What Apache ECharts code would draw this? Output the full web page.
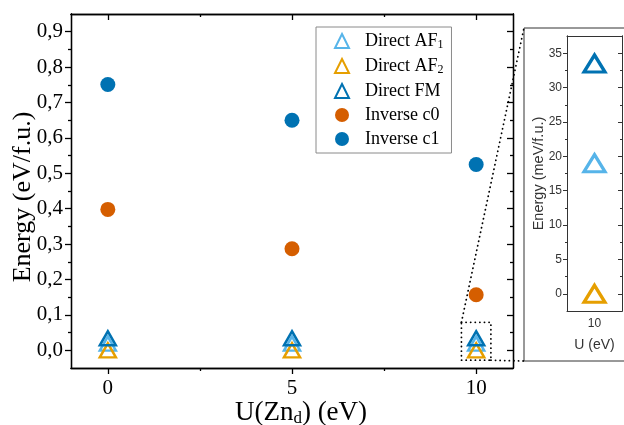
<!DOCTYPE html>
<html>
<head>
<meta charset="utf-8">
<script src="https://cdn.jsdelivr.net/npm/echarts@6/dist/echarts.min.js"></script>
<style>
  html, body { margin: 0; padding: 0; background: #fff; }
  #chart { width: 624px; height: 425px; }
</style>
</head>
<body>
<div id="chart"></div>
<script>
// main plot values (eV/f.u.)
var uValues = [0, 5, 10];
var directAF1 = [0.019, 0.019, 0.019];
var directAF2 = [0.000, 0.000, 0.000];
var directFM = [0.034, 0.034, 0.034];
var inverseC0 = [0.398, 0.287, 0.157];
var inverseC1 = [0.751, 0.650, 0.525];

// inset values (meV/f.u.) at U = 10 eV
var insetU = ['10'];
var insetAF1 = [19];
var insetAF2 = [0];
var insetFM = [33.5];

// tick labels
var xTicks = [0, 5, 10];
var xMinor = [2.5, 7.5];
var yTicks = [0, 0.1, 0.2, 0.3, 0.4, 0.5, 0.6, 0.7, 0.8, 0.9];
var yMinor = [0.05, 0.15, 0.25, 0.35, 0.45, 0.55, 0.65, 0.75, 0.85];
var insetYTicks = [0, 5, 10, 15, 20, 25, 30, 35];
var insetYMinor = [2.5, 7.5, 12.5, 17.5, 22.5, 27.5, 32.5];

var serif = 'Liberation Serif';
var sans = 'Liberation Sans';
var colors = { af1: '#56B4E9', af2: '#E69F00', fm: '#0072B2', c0: '#D55E00', c1: '#0072B2' };

function pairs(xs, ys) {
    return xs.map(function (x, i) { return [x, ys[i]]; });
}

// one value axis = one set of ticks (major or minor) on one side
function tickAxis(pos, min, max, values, len, inside, label, gridIndex) {
    var c = gridIndex ? '#333' : '#000';
    var w = gridIndex ? 1 : 1.3;
    var ax = {
        type: 'value', gridIndex: gridIndex || 0, position: pos,
        min: min, max: max, nameMoveOverlap: false,
        splitLine: { show: false },
        axisLine: { show: true, onZero: false, lineStyle: { color: c, width: w } },
        axisTick: { show: true, inside: inside, length: len, customValues: values,
            lineStyle: { color: c, width: w } },
        axisLabel: { show: !!label, customValues: values }
    };
    if (label) Object.keys(label).forEach(function (k) { ax.axisLabel[k] = label[k]; });
    return ax;
}

var mainYLabel = { fontFamily: serif, fontSize: 21, color: '#000', margin: 8,
    formatter: function (v) { return v.toFixed(1).replace('.', ','); } };
var mainXLabel = { fontFamily: serif, fontSize: 21, color: '#000', margin: 10 };
var insetYLabel = { fontFamily: sans, fontSize: 12, color: '#333', margin: 5 };

var xAxes = [
    tickAxis('bottom', -1, 11, xTicks, 6, false, mainXLabel),
    tickAxis('bottom', -1, 11, xMinor, 3, false),
    tickAxis('top', -1, 11, xTicks, 6, true),
    tickAxis('top', -1, 11, xMinor, 3, true),
    {
        type: 'category', gridIndex: 1, position: 'bottom', data: insetU,
        nameMoveOverlap: false,
        axisLine: { onZero: false, lineStyle: { color: '#333' } },
        axisTick: { alignWithLabel: true, length: 4, lineStyle: { color: '#333' } },
        axisLabel: { fontFamily: sans, fontSize: 12, color: '#333', margin: 7 },
        name: 'U (eV)', nameLocation: 'middle', nameGap: 27,
        nameTextStyle: { fontFamily: sans, fontSize: 14, color: '#333' }
    },
    {
        type: 'category', gridIndex: 1, position: 'top', data: insetU,
        axisLine: { onZero: false, lineStyle: { color: '#333' } },
        axisTick: { alignWithLabel: true, inside: true, length: 3, lineStyle: { color: '#333' } },
        axisLabel: { show: false }
    }
];
xAxes[0].name = '{a|U(Zn}{s|d}{a|) (eV)}';
xAxes[0].nameLocation = 'middle';
xAxes[0].nameGap = 31;
xAxes[0].nameTextStyle = { padding: [0, 0, 0, 18], rich: {
    a: { fontFamily: serif, fontSize: 27, color: '#000', lineHeight: 28 },
    s: { fontFamily: serif, fontSize: 17, color: '#000', lineHeight: 17, verticalAlign: 'bottom' }
} };

var yAxes = [
    tickAxis('left', -0.05, 0.95, yTicks, 6, false, mainYLabel),
    tickAxis('left', -0.05, 0.95, yMinor, 3, false),
    tickAxis('right', -0.05, 0.95, yTicks, 6, true),
    tickAxis('right', -0.05, 0.95, yMinor, 3, true),
    tickAxis('left', -2.5, 37.5, insetYTicks, 4, false, insetYLabel, 1),
    tickAxis('left', -2.5, 37.5, insetYMinor, 2, false, null, 1),
    tickAxis('right', -2.5, 37.5, insetYTicks, 4, true, null, 1),
    tickAxis('right', -2.5, 37.5, insetYMinor, 2, true, null, 1)
];
yAxes[0].name = 'Energy (eV/f.u.)';
yAxes[0].nameLocation = 'middle';
yAxes[0].nameGap = 35;
yAxes[0].nameTextStyle = { fontFamily: serif, fontSize: 26, color: '#000', padding: [0, 12, 0, 0] };
yAxes[4].name = 'Energy (meV/f.u.)';
yAxes[4].nameLocation = 'middle';
yAxes[4].nameGap = 21;
yAxes[4].nameTextStyle = { fontFamily: sans, fontSize: 14.5, color: '#333' };

function triangle(name, color, data, inset) {
    return {
        name: name, type: 'scatter', symbol: 'triangle',
        symbolSize: inset ? [21, 17] : [16, 14],
        xAxisIndex: inset ? 4 : 0, yAxisIndex: inset ? 4 : 0,
        itemStyle: { color: 'rgba(255,255,255,0)', borderColor: color, borderWidth: inset ? 3.2 : 2.5, opacity: 1 },
        data: data, z: 3
    };
}
function circle(name, color, data) {
    return {
        name: name, type: 'scatter', symbol: 'circle', symbolSize: 15,
        itemStyle: { color: color, opacity: 1 }, data: data, z: 2
    };
}

var option = {
    animation: false,
    backgroundColor: '#fff',
    grid: [
        { left: 71, right: 111, top: 14, bottom: 57, outerBoundsMode: 'none', containLabel: false },
        { left: 567, right: 2, top: 36, bottom: 114, outerBoundsMode: 'none', containLabel: false }
    ],
    xAxis: xAxes,
    yAxis: yAxes,
    legend: {
        left: 316, top: 27, orient: 'vertical',
        padding: [5, 8, 5, 18], itemGap: 6,
        itemWidth: 14, itemHeight: 14,
        borderColor: '#8a8a8a', borderWidth: 1,
        data: ['Direct AF1', 'Direct AF2', 'Direct FM', 'Inverse c0', 'Inverse c1'],
        formatter: function (name) {
            var m = name.match(/^(Direct AF)(\d)$/);
            if (m) return '{sp| }{t|' + m[1] + '}{s|' + m[2] + '}';
            return '{sp| }{t|' + name + '}';
        },
        textStyle: { rich: {
            sp: { width: 11, fontSize: 10 },
            t: { fontFamily: serif, fontSize: 18, color: '#000', lineHeight: 20 },
            s: { fontFamily: serif, fontSize: 12, color: '#000', lineHeight: 12, verticalAlign: 'bottom' }
        } }
    },
    series: [
        triangle('Direct AF1', colors.af1, pairs(uValues, directAF1)),
        triangle('Direct AF2', colors.af2, pairs(uValues, directAF2)),
        triangle('Direct FM', colors.fm, pairs(uValues, directFM)),
        circle('Inverse c0', colors.c0, pairs(uValues, inverseC0)),
        circle('Inverse c1', colors.c1, pairs(uValues, inverseC1)),
        triangle('Direct AF1', colors.af1, pairs(insetU, insetAF1), true),
        triangle('Direct AF2', colors.af2, pairs(insetU, insetAF2), true),
        triangle('Direct FM', colors.fm, pairs(insetU, insetFM), true)
    ]
};

var myChart = echarts.init(document.getElementById('chart'), null, { renderer: 'canvas' });
myChart.setOption(option);

// dotted zoom box around the U = 10 direct points, linked to the inset frame
var zoomBox = { x0: 9.6, x1: 10.4, y0: -0.028, y1: 0.079 };
var tl = myChart.convertToPixel({ xAxisIndex: 0, yAxisIndex: 0 }, [zoomBox.x0, zoomBox.y1]);
var br = myChart.convertToPixel({ xAxisIndex: 0, yAxisIndex: 0 }, [zoomBox.x1, zoomBox.y0]);
var frame = { x: 524, y: 28, w: 120, h: 333 };
var dotted = { stroke: '#000', lineWidth: 1.8, lineDash: [0.1, 4.5], lineCap: 'round', fill: null };

myChart.setOption({
    graphic: [
        { type: 'rect', silent: true, z: 0,
          shape: { x: frame.x, y: frame.y, width: frame.w, height: frame.h },
          style: { fill: null, stroke: '#333', lineWidth: 1 } },
        { type: 'rect', silent: true, z: 10,
          shape: { x: tl[0], y: tl[1], width: br[0] - tl[0], height: br[1] - tl[1] },
          style: dotted },
        { type: 'line', silent: true, z: 10,
          shape: { x1: tl[0], y1: tl[1], x2: frame.x, y2: frame.y },
          style: dotted },
        { type: 'line', silent: true, z: 10,
          shape: { x1: br[0], y1: br[1], x2: frame.x, y2: frame.y + frame.h },
          style: dotted }
    ]
});
</script>
</body>
</html>
